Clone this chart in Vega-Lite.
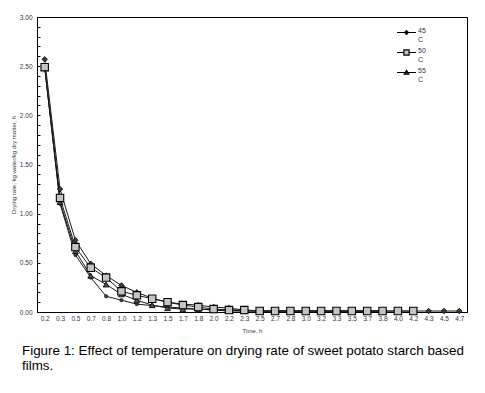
{
  "$schema": "https://vega.github.io/schema/vega-lite/v6.json",
  "width": 430,
  "height": 295,
  "autosize": {"type": "none"},
  "padding": {"left": 37, "top": 17, "right": 18, "bottom": 81},
  "background": "white",
  "title": {
    "text": ["Figure 1: Effect of temperature on drying rate of sweet potato starch based", "films."],
    "orient": "bottom",
    "anchor": "start",
    "frame": "group",
    "dx": -15,
    "offset": 10,
    "font": "Liberation Sans",
    "fontSize": 13.4,
    "fontWeight": "normal",
    "color": "#000000",
    "lineHeight": 15
  },
  "config": {
    "view": {"stroke": "#000000", "strokeWidth": 1},
    "axis": {
      "labelFont": "Liberation Sans",
      "titleFont": "Liberation Sans",
      "labelColor": "#2e3550",
      "titleColor": "#2e3550",
      "titleFontWeight": "normal",
      "grid": false,
      "domainColor": "#000000",
      "tickColor": "#000000"
    },
    "legend": {
      "labelFont": "Liberation Sans",
      "labelColor": "#2e3550"
    }
  },
  "data": {
    "values": [
      {"t": "0.2", "s": "45", "v": 2.57}, {"t": "0.3", "s": "45", "v": 1.25}, {"t": "0.5", "s": "45", "v": 0.73}, {"t": "0.7", "s": "45", "v": 0.49},
      {"t": "0.8", "s": "45", "v": 0.37}, {"t": "1.0", "s": "45", "v": 0.27}, {"t": "1.2", "s": "45", "v": 0.2}, {"t": "1.3", "s": "45", "v": 0.14},
      {"t": "1.5", "s": "45", "v": 0.1}, {"t": "1.7", "s": "45", "v": 0.08}, {"t": "1.8", "s": "45", "v": 0.07}, {"t": "2.0", "s": "45", "v": 0.05},
      {"t": "2.2", "s": "45", "v": 0.04}, {"t": "2.3", "s": "45", "v": 0.02}, {"t": "2.5", "s": "45", "v": 0.01}, {"t": "2.7", "s": "45", "v": 0.01},
      {"t": "2.8", "s": "45", "v": 0.01}, {"t": "3.0", "s": "45", "v": 0.01}, {"t": "3.2", "s": "45", "v": 0.01}, {"t": "3.3", "s": "45", "v": 0.01},
      {"t": "3.5", "s": "45", "v": 0.01}, {"t": "3.7", "s": "45", "v": 0.01}, {"t": "3.8", "s": "45", "v": 0.01}, {"t": "4.0", "s": "45", "v": 0.01},
      {"t": "4.2", "s": "45", "v": 0.01}, {"t": "4.3", "s": "45", "v": 0.01}, {"t": "4.5", "s": "45", "v": 0.01}, {"t": "4.7", "s": "45", "v": 0.01},

      {"t": "0.2", "s": "50", "v": 2.49}, {"t": "0.3", "s": "50", "v": 1.16}, {"t": "0.5", "s": "50", "v": 0.66}, {"t": "0.7", "s": "50", "v": 0.45},
      {"t": "0.8", "s": "50", "v": 0.35}, {"t": "1.0", "s": "50", "v": 0.21}, {"t": "1.2", "s": "50", "v": 0.17}, {"t": "1.3", "s": "50", "v": 0.135},
      {"t": "1.5", "s": "50", "v": 0.1}, {"t": "1.7", "s": "50", "v": 0.07}, {"t": "1.8", "s": "50", "v": 0.05}, {"t": "2.0", "s": "50", "v": 0.03},
      {"t": "2.2", "s": "50", "v": 0.02}, {"t": "2.3", "s": "50", "v": 0.02}, {"t": "2.5", "s": "50", "v": 0.01}, {"t": "2.7", "s": "50", "v": 0.01},
      {"t": "2.8", "s": "50", "v": 0.01}, {"t": "3.0", "s": "50", "v": 0.01}, {"t": "3.2", "s": "50", "v": 0.01}, {"t": "3.3", "s": "50", "v": 0.01},
      {"t": "3.5", "s": "50", "v": 0.01}, {"t": "3.7", "s": "50", "v": 0.01}, {"t": "3.8", "s": "50", "v": 0.01}, {"t": "4.0", "s": "50", "v": 0.01},
      {"t": "4.2", "s": "50", "v": 0.01},

      {"t": "0.2", "s": "55", "v": 2.49}, {"t": "0.3", "s": "55", "v": 1.12}, {"t": "0.5", "s": "55", "v": 0.62}, {"t": "0.7", "s": "55", "v": 0.37},
      {"t": "0.8", "s": "55", "v": 0.28}, {"t": "1.0", "s": "55", "v": 0.18}, {"t": "1.2", "s": "55", "v": 0.12}, {"t": "1.3", "s": "55", "v": 0.07},
      {"t": "1.5", "s": "55", "v": 0.04}, {"t": "1.7", "s": "55", "v": 0.03}, {"t": "1.8", "s": "55", "v": 0.03}, {"t": "2.0", "s": "55", "v": 0.02},
      {"t": "2.2", "s": "55", "v": 0.02}, {"t": "2.3", "s": "55", "v": 0.01}, {"t": "2.5", "s": "55", "v": 0.01}, {"t": "2.7", "s": "55", "v": 0.01},
      {"t": "2.8", "s": "55", "v": 0.01}, {"t": "3.0", "s": "55", "v": 0.01}, {"t": "3.2", "s": "55", "v": 0.01}, {"t": "3.3", "s": "55", "v": 0.01},
      {"t": "3.5", "s": "55", "v": 0.01}, {"t": "3.7", "s": "55", "v": 0.01}, {"t": "3.8", "s": "55", "v": 0.01},

      {"t": "0.2", "s": "45b", "v": 2.49}, {"t": "0.3", "s": "45b", "v": 1.1}, {"t": "0.5", "s": "45b", "v": 0.58}, {"t": "0.7", "s": "45b", "v": 0.35},
      {"t": "0.8", "s": "45b", "v": 0.16}, {"t": "1.0", "s": "45b", "v": 0.12}, {"t": "1.2", "s": "45b", "v": 0.08}, {"t": "1.3", "s": "45b", "v": 0.065},
      {"t": "1.5", "s": "45b", "v": 0.05}, {"t": "1.7", "s": "45b", "v": 0.04}, {"t": "1.8", "s": "45b", "v": 0.03}, {"t": "2.0", "s": "45b", "v": 0.02},
      {"t": "2.2", "s": "45b", "v": 0.01}, {"t": "2.3", "s": "45b", "v": 0.01}, {"t": "2.5", "s": "45b", "v": 0.01}, {"t": "2.7", "s": "45b", "v": 0.01},
      {"t": "2.8", "s": "45b", "v": 0.01}, {"t": "3.0", "s": "45b", "v": 0.01}, {"t": "3.2", "s": "45b", "v": 0.01}, {"t": "3.3", "s": "45b", "v": 0.01},
      {"t": "3.5", "s": "45b", "v": 0.01}, {"t": "3.7", "s": "45b", "v": 0.01}, {"t": "3.8", "s": "45b", "v": 0.01}
    ]
  },
  "encoding": {
    "x": {
      "field": "t",
      "type": "ordinal",
      "sort": null,
      "scale": {"type": "point", "padding": 0.5},
      "axis": {
        "title": "Time, h",
        "labelAngle": 0,
        "labelFontSize": 6.5,
        "titleFontSize": 6,
        "ticks": false,
        "labelPadding": 3,
        "titlePadding": 6
      }
    },
    "y": {
      "field": "v",
      "type": "quantitative",
      "scale": {"domain": [0, 3]},
      "axis": {
        "title": "Drying rate, kg water/kg dry matter, h",
        "values": [0, 0.1, 0.2, 0.3, 0.4, 0.5, 0.6, 0.7, 0.8, 0.9, 1, 1.1, 1.2, 1.3, 1.4, 1.5, 1.6, 1.7, 1.8, 1.9, 2, 2.1, 2.2, 2.3, 2.4, 2.5, 2.6, 2.7, 2.8, 2.9, 3],
        "labelExpr": "abs(datum.value*2 - round(datum.value*2)) < 0.001 ? format(datum.value, '.2f') : ''",
        "tickSize": -3,
        "labelPadding": 8,
        "labelFontSize": 6.5,
        "titleFontSize": 6,
        "titlePadding": 3
      }
    }
  },
  "layer": [
    {
      "mark": {"type": "line", "color": "#1a1a1a", "strokeWidth": 1},
      "encoding": {"detail": {"field": "s"}}
    },
    {
      "transform": [{"filter": "datum.s === '45b'"}],
      "mark": {"type": "point", "shape": "circle", "filled": true, "fill": "#3c3c3c", "stroke": "#000000", "strokeWidth": 0.5, "size": 12, "opacity": 1}
    },
    {
      "transform": [{"filter": "datum.s === '45'"}],
      "mark": {"type": "point", "shape": "diamond", "filled": true, "fill": "#3c3c3c", "stroke": "#000000", "strokeWidth": 0.8, "size": 30, "opacity": 1}
    },
    {
      "transform": [{"filter": "datum.s === '55'"}],
      "mark": {"type": "point", "shape": "triangle-up", "filled": true, "fill": "#505050", "stroke": "#000000", "strokeWidth": 0.8, "size": 35, "opacity": 1}
    },
    {
      "transform": [{"filter": "datum.s === '50'"}],
      "mark": {"type": "point", "shape": "square", "filled": true, "fill": "#c4c4c4", "stroke": "#000000", "strokeWidth": 1.1, "size": 55, "opacity": 1}
    },
    {
      "transform": [{"filter": "false"}],
      "mark": {"type": "point", "filled": true, "strokeWidth": 1.2, "opacity": 1},
      "encoding": {
        "shape": {
          "field": "s",
          "type": "nominal",
          "scale": {
            "domain": ["45", "50", "55"],
            "range": [
              "M-1.1,0H1.1M-0.22,0L0,-0.22L0.22,0L0,0.22Z",
              "M-1.1,0H-0.3M0.3,0H1.1M-0.3,-0.3H0.3V0.3H-0.3Z",
              "M-1.1,0H1.1M0,-0.25L0.27,0.2H-0.27Z"
            ]
          },
          "legend": {
            "title": null,
            "orient": "none",
            "legendX": 360,
            "legendY": 6,
            "symbolSize": 300,
            "symbolStrokeWidth": 1.2,
            "rowPadding": 0,
            "labelFontSize": 7,
            "labelBaseline": "alphabetic",
            "labelOffset": 2,
            "labelExpr": "[datum.label, 'C']"
          }
        },
        "fill": {
          "field": "s",
          "type": "nominal",
          "scale": {"domain": ["45", "50", "55"], "range": ["#3c3c3c", "#c4c4c4", "#505050"]},
          "legend": {
            "title": null,
            "orient": "none",
            "legendX": 360,
            "legendY": 6,
            "symbolSize": 300,
            "symbolStrokeWidth": 1.2,
            "rowPadding": 0,
            "labelFontSize": 7,
            "labelBaseline": "alphabetic",
            "labelOffset": 2,
            "labelExpr": "[datum.label, 'C']"
          }
        },
        "stroke": {
          "field": "s",
          "type": "nominal",
          "scale": {"domain": ["45", "50", "55"], "range": ["#000000", "#000000", "#000000"]},
          "legend": {
            "title": null,
            "orient": "none",
            "legendX": 360,
            "legendY": 6,
            "symbolSize": 300,
            "symbolStrokeWidth": 1.2,
            "rowPadding": 0,
            "labelFontSize": 7,
            "labelBaseline": "alphabetic",
            "labelOffset": 2,
            "labelExpr": "[datum.label, 'C']"
          }
        }
      }
    }
  ]
}
